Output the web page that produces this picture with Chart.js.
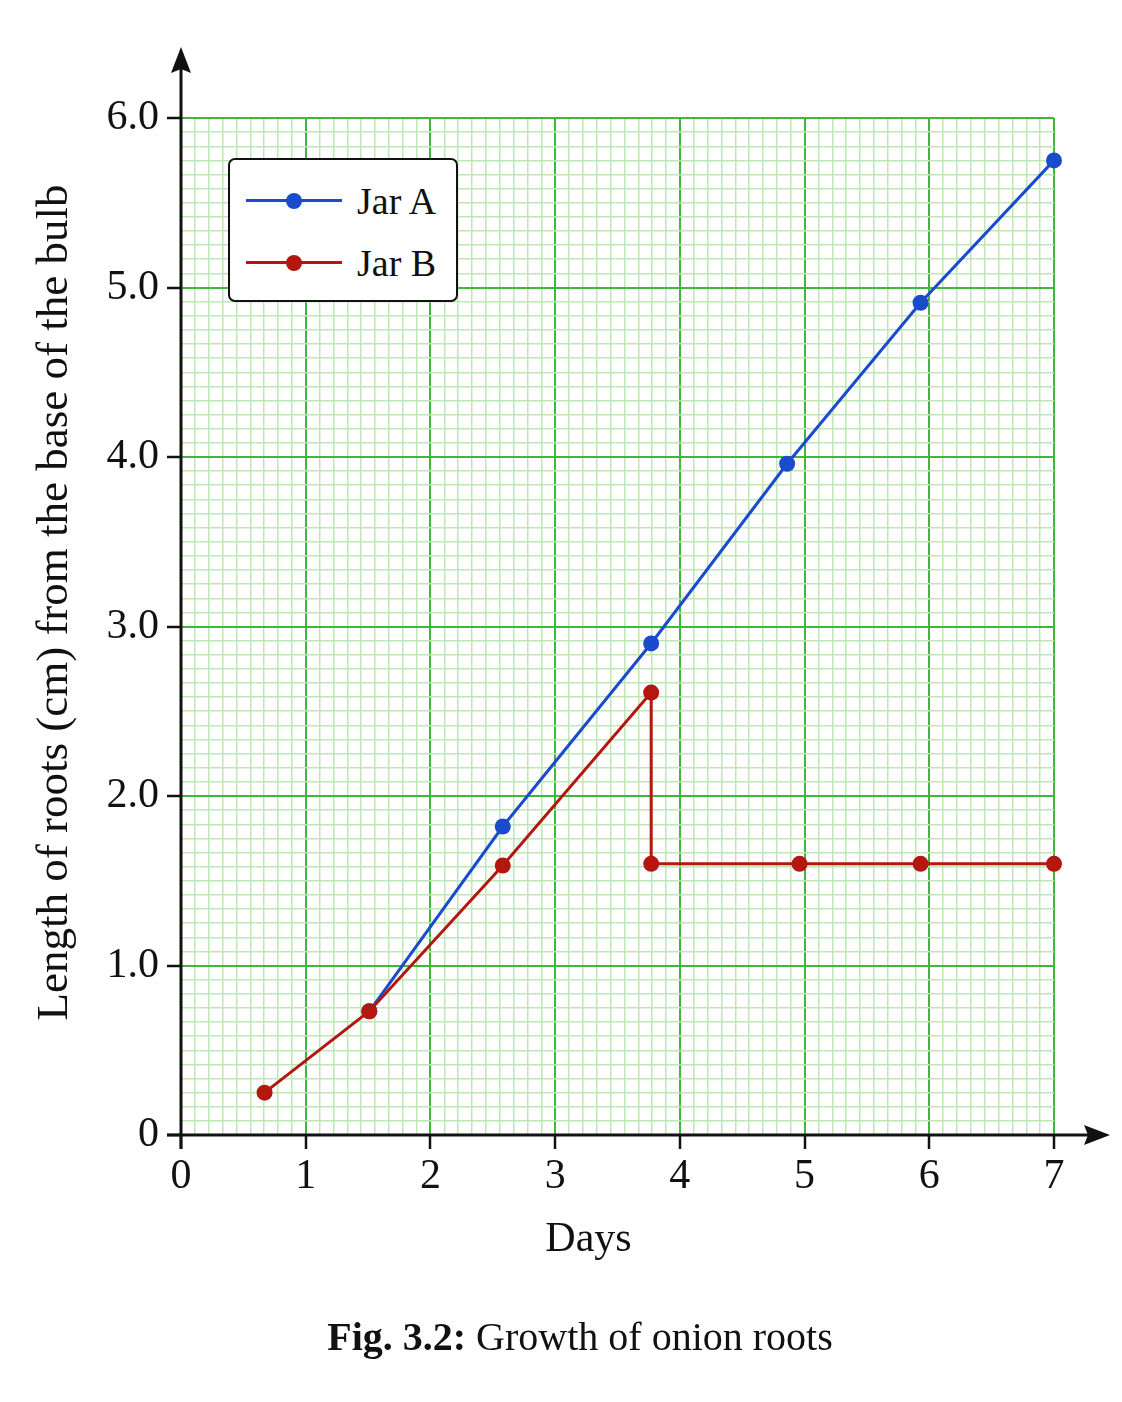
<!DOCTYPE html>
<html>
<head>
<meta charset="utf-8">
<title>Growth of onion roots</title>
<script src="https://cdn.jsdelivr.net/npm/chart.js@4.4.1/dist/chart.umd.min.js"></script>
<style>
    body { margin: 0; background: #fff; }
    #wrap {
        position: relative;
        width: 1122px;
        height: 1402px;
        font-family: 'Liberation Serif', 'Times New Roman', serif;
        color: #111;
    }
    #rootsChart { position: absolute; left: 0; top: 0; }
    #legendBox {
        position: absolute;
        left: 228px;
        top: 158px;
        width: 226px;
        height: 140px;
        border: 2px solid #111;
        border-radius: 7px;
        background: #fff;
    }
    .legend-row { position: absolute; left: 0; width: 226px; height: 40px; }
    .legend-line { position: absolute; left: 16px; top: 18px; width: 96px; height: 3px; }
    .legend-dot { position: absolute; left: 56px; top: 12px; width: 16px; height: 16px; border-radius: 50%; }
    .legend-text { position: absolute; left: 127px; top: 0; font-size: 38px; line-height: 40px; }
    #caption {
        position: absolute;
        left: 0;
        width: 1160px;
        top: 1313px;
        text-align: center;
        font-size: 40px;
        line-height: 48px;
    }
</style>
</head>
<body>
<div id="wrap">
    <canvas id="rootsChart" width="1122" height="1402"></canvas>
    <div id="legendBox"></div>
    <div id="caption"><b>Fig. 3.2:</b> Growth of onion roots</div>
</div>

<script>
// Data
const jarADays   = [1.51, 2.58, 3.77, 4.86, 5.93, 7.0];
const jarALength = [0.73, 1.82, 2.90, 3.96, 4.91, 5.75];

const jarBDays   = [0.67, 1.51, 2.58, 3.77, 3.77, 4.96, 5.93, 7.0];
const jarBLength = [0.25, 0.73, 1.59, 2.61, 1.60, 1.60, 1.60, 1.60];

const seriesNames  = ['Jar A', 'Jar B'];
const seriesColors = ['#1a4bcc', '#b3170f'];

const xTickLabels = ['0', '1', '2', '3', '4', '5', '6', '7'];
const yTickLabels = ['0', '1.0', '2.0', '3.0', '4.0', '5.0', '6.0'];

const xTitle = 'Days';
const yTitle = 'Length of roots (cm) from the base of the bulb';

// graph paper subdivisions per major unit
const xMinorPerUnit = 9;
const yMinorPerUnit = 12;

const serifFont = "'Liberation Serif', 'Times New Roman', serif";

function toPoints(xs, ys) {
    return xs.map((x, i) => ({ x: x, y: ys[i] }));
}

// Build the html legend
const legendBox = document.getElementById('legendBox');
seriesNames.forEach((name, i) => {
    const row = document.createElement('div');
    row.className = 'legend-row';
    row.style.top = (21 + i * 62) + 'px';
    row.innerHTML =
        '<div class="legend-line" style="background:' + seriesColors[i] + '"></div>' +
        '<div class="legend-dot" style="background:' + seriesColors[i] + '"></div>' +
        '<div class="legend-text">' + name + '</div>';
    legendBox.appendChild(row);
});

// black axes with arrow heads, plus the axis titles
const axisArrows = {
    id: 'axisArrows',
    afterDraw(chart) {
        const ctx = chart.ctx;
        const area = chart.chartArea;
        const xs = chart.scales.x;
        const ys = chart.scales.y;
        const x0 = xs.getPixelForValue(0);
        const xEnd = xs.getPixelForValue(xs.max);
        const y0 = ys.getPixelForValue(0);
        const yTop = ys.getPixelForValue(ys.max);

        ctx.save();
        ctx.strokeStyle = '#111';
        ctx.fillStyle = '#111';
        ctx.lineWidth = 3;

        // x axis
        ctx.beginPath();
        ctx.moveTo(x0 - 14, y0);
        ctx.lineTo(xEnd + 40, y0);
        ctx.stroke();
        ctx.beginPath();
        ctx.moveTo(xEnd + 56, y0);
        ctx.lineTo(xEnd + 30, y0 - 10);
        ctx.lineTo(xEnd + 34, y0);
        ctx.lineTo(xEnd + 30, y0 + 10);
        ctx.closePath();
        ctx.fill();

        // y axis
        ctx.beginPath();
        ctx.moveTo(x0, y0 + 14);
        ctx.lineTo(x0, yTop - 55);
        ctx.stroke();
        ctx.beginPath();
        ctx.moveTo(x0, yTop - 71);
        ctx.lineTo(x0 - 10, yTop - 45);
        ctx.lineTo(x0, yTop - 49);
        ctx.lineTo(x0 + 10, yTop - 45);
        ctx.closePath();
        ctx.fill();

        // axis titles
        ctx.textAlign = 'center';
        ctx.textBaseline = 'middle';
        ctx.font = '42px ' + serifFont;
        ctx.fillText(xTitle, (area.left + area.right) / 2 - 29, area.bottom + 105);

        ctx.translate(55, (area.top + area.bottom) / 2 - 24);
        ctx.rotate(-Math.PI / 2);
        ctx.font = '45px ' + serifFont;
        ctx.fillText(yTitle, 0, 0);
        ctx.restore();
    }
};

function gridColor(perUnit) {
    return ctx => (ctx.index % perUnit === 0 ? '#3db83d' : '#bde8b4');
}
function gridWidth(perUnit) {
    return ctx => (ctx.index % perUnit === 0 ? 2 : 1.5);
}
function tickColor(perUnit) {
    return ctx => (ctx.index % perUnit === 0 ? '#111' : 'rgba(0,0,0,0)');
}

const chart = new Chart(document.getElementById('rootsChart').getContext('2d'), {
    type: 'scatter',
    data: {
        datasets: [
            {
                label: seriesNames[0],
                data: toPoints(jarADays, jarALength),
                showLine: true,
                borderColor: seriesColors[0],
                backgroundColor: seriesColors[0],
                borderWidth: 3,
                pointRadius: 8,
                pointBorderWidth: 0,
                tension: 0,
                clip: false,
                order: 1
            },
            {
                label: seriesNames[1],
                data: toPoints(jarBDays, jarBLength),
                showLine: true,
                borderColor: seriesColors[1],
                backgroundColor: seriesColors[1],
                borderWidth: 3,
                pointRadius: 8,
                pointBorderWidth: 0,
                tension: 0,
                clip: false,
                order: 0
            }
        ]
    },
    options: {
        responsive: false,
        animation: false,
        devicePixelRatio: 1,
        layout: { padding: { left: 0, top: 118, right: 68, bottom: 141 } },
        plugins: {
            legend: { display: false },
            tooltip: { enabled: false }
        },
        scales: {
            x: {
                type: 'linear',
                min: 0,
                max: 7,
                afterBuildTicks: scale => {
                    const ticks = [];
                    for (let i = 0; i <= 7 * xMinorPerUnit; i++) {
                        ticks.push({ value: i / xMinorPerUnit });
                    }
                    scale.ticks = ticks;
                },
                afterFit: scale => { scale.height = 126; },
                border: { display: false },
                grid: {
                    color: gridColor(xMinorPerUnit),
                    lineWidth: gridWidth(xMinorPerUnit),
                    tickColor: tickColor(xMinorPerUnit),
                    tickWidth: 2.5,
                    tickLength: 14
                },
                ticks: {
                    autoSkip: false,
                    maxRotation: 0,
                    padding: 7,
                    color: '#111',
                    font: { family: serifFont, size: 42, lineHeight: 1 },
                    callback: (value, index) =>
                        index % xMinorPerUnit === 0 ? xTickLabels[index / xMinorPerUnit] : ''
                },
                title: { display: false }
            },
            y: {
                type: 'linear',
                min: 0,
                max: 6,
                afterBuildTicks: scale => {
                    const ticks = [];
                    for (let i = 0; i <= 6 * yMinorPerUnit; i++) {
                        ticks.push({ value: i / yMinorPerUnit });
                    }
                    scale.ticks = ticks;
                },
                afterFit: scale => { scale.width = 181; },
                border: { display: false },
                grid: {
                    color: gridColor(yMinorPerUnit),
                    lineWidth: gridWidth(yMinorPerUnit),
                    tickColor: tickColor(yMinorPerUnit),
                    tickWidth: 2.5,
                    tickLength: 14
                },
                ticks: {
                    autoSkip: false,
                    padding: 8,
                    color: '#111',
                    font: { family: serifFont, size: 42, lineHeight: 1 },
                    callback: (value, index) =>
                        index % yMinorPerUnit === 0 ? yTickLabels[index / yMinorPerUnit] : ''
                },
                title: { display: false }
            }
        }
    },
    plugins: [axisArrows]
});
</script>
</body>
</html>
